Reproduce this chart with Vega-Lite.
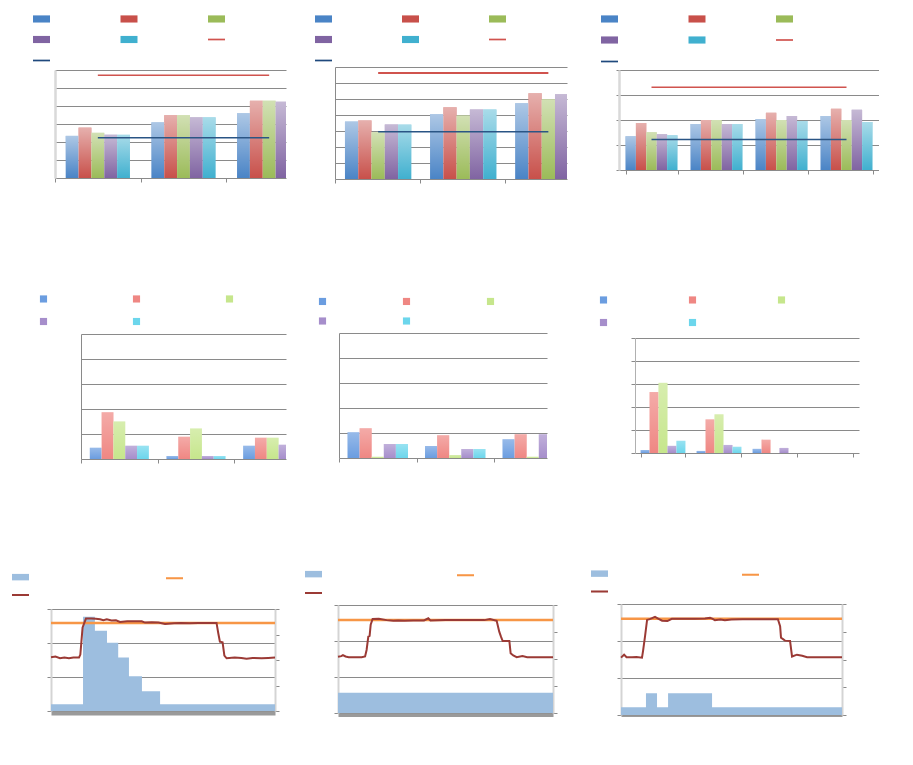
{
"$schema": "https://vega.github.io/schema/vega-lite/v6.json",
"background": "white",
"padding": {"left": 0, "top": 10, "right": 0, "bottom": 0},
"config": {"view": {"stroke": null}, "axis": {"labels": false}},
"datasets": {
"p1b": [{"g":"g1","s":"S1","v":2.34},{"g":"g1","s":"S2","v":2.8},{"g":"g1","s":"S3","v":2.51},{"g":"g1","s":"S4","v":2.4},{"g":"g1","s":"S5","v":2.4},
{"g":"g2","s":"S1","v":3.09},{"g":"g2","s":"S2","v":3.49},{"g":"g2","s":"S3","v":3.49},{"g":"g2","s":"S4","v":3.37},{"g":"g2","s":"S5","v":3.37},
{"g":"g3","s":"S1","v":3.6},{"g":"g3","s":"S2","v":4.29},{"g":"g3","s":"S3","v":4.29},{"g":"g3","s":"S4","v":4.23},{"g":"g3","s":"S5","v":4.2}],
"p1l": [{"g":"g1","s":"L1","v":5.71},{"g":"g2","s":"L1","v":5.71},{"g":"g3","s":"L1","v":5.71},{"g":"g1","s":"L2","v":2.23},{"g":"g2","s":"L2","v":2.23},{"g":"g3","s":"L2","v":2.23}],
"p2b": [{"g":"g1","s":"S1","v":3.59},{"g":"g1","s":"S2","v":3.66},{"g":"g1","s":"S3","v":2.92},{"g":"g1","s":"S4","v":3.4},{"g":"g1","s":"S5","v":3.4},
{"g":"g2","s":"S1","v":4.04},{"g":"g2","s":"S2","v":4.48},{"g":"g2","s":"S3","v":3.97},{"g":"g2","s":"S4","v":4.35},{"g":"g2","s":"S5","v":4.35},
{"g":"g3","s":"S1","v":4.73},{"g":"g3","s":"S2","v":5.36},{"g":"g3","s":"S3","v":4.98},{"g":"g3","s":"S4","v":5.3},{"g":"g3","s":"S5","v":5.2}],
"p2l": [{"g":"g1","s":"L1","v":6.62},{"g":"g2","s":"L1","v":6.62},{"g":"g3","s":"L1","v":6.62},{"g":"g1","s":"L2","v":2.96},{"g":"g2","s":"L2","v":2.96},{"g":"g3","s":"L2","v":2.96}],
"p3b": [{"g":"g1","s":"S1","v":1.35},{"g":"g1","s":"S2","v":1.88},{"g":"g1","s":"S3","v":1.51},{"g":"g1","s":"S4","v":1.43},{"g":"g1","s":"S5","v":1.39},
{"g":"g2","s":"S1","v":1.84},{"g":"g2","s":"S2","v":2.0},{"g":"g2","s":"S3","v":2.0},{"g":"g2","s":"S4","v":1.84},{"g":"g2","s":"S5","v":1.84},
{"g":"g3","s":"S1","v":2.04},{"g":"g3","s":"S2","v":2.29},{"g":"g3","s":"S3","v":2.0},{"g":"g3","s":"S4","v":2.16},{"g":"g3","s":"S5","v":1.96},
{"g":"g4","s":"S1","v":2.16},{"g":"g4","s":"S2","v":2.45},{"g":"g4","s":"S3","v":2.0},{"g":"g4","s":"S4","v":2.41},{"g":"g4","s":"S5","v":1.92}],
"p3l": [{"g":"g1","s":"L1","v":3.31},{"g":"g2","s":"L1","v":3.31},{"g":"g3","s":"L1","v":3.31},{"g":"g4","s":"L1","v":3.31},{"g":"g1","s":"L2","v":1.22},{"g":"g2","s":"L2","v":1.22},{"g":"g3","s":"L2","v":1.22},{"g":"g4","s":"L2","v":1.22}],
"p4b": [{"g":"g1","s":"S1","v":0.45},{"g":"g1","s":"S2","v":1.87},{"g":"g1","s":"S3","v":1.5},{"g":"g1","s":"S4","v":0.53},{"g":"g1","s":"S5","v":0.53},
{"g":"g2","s":"S1","v":0.12},{"g":"g2","s":"S2","v":0.89},{"g":"g2","s":"S3","v":1.22},{"g":"g2","s":"S4","v":0.12},{"g":"g2","s":"S5","v":0.12},
{"g":"g3","s":"S1","v":0.53},{"g":"g3","s":"S2","v":0.85},{"g":"g3","s":"S3","v":0.85},{"g":"g3","s":"S4","v":0.57},{"g":"g3","s":"S5","v":0.5}],
"p5b": [{"g":"g1","s":"S1","v":1.03},{"g":"g1","s":"S2","v":1.19},{"g":"g1","s":"S3","v":0.05},{"g":"g1","s":"S4","v":0.56},{"g":"g1","s":"S5","v":0.56},
{"g":"g2","s":"S1","v":0.48},{"g":"g2","s":"S2","v":0.91},{"g":"g2","s":"S3","v":0.12},{"g":"g2","s":"S4","v":0.36},{"g":"g2","s":"S5","v":0.36},
{"g":"g3","s":"S1","v":0.75},{"g":"g3","s":"S2","v":0.95},{"g":"g3","s":"S3","v":0.05},{"g":"g3","s":"S4","v":0.95},{"g":"g3","s":"S5","v":0.5}],
"p6b": [{"g":"g1","s":"S1","v":0.13},{"g":"g1","s":"S2","v":2.65},{"g":"g1","s":"S3","v":3.05},{"g":"g1","s":"S4","v":0.31},{"g":"g1","s":"S5","v":0.53},
{"g":"g2","s":"S1","v":0.09},{"g":"g2","s":"S2","v":1.46},{"g":"g2","s":"S3","v":1.68},{"g":"g2","s":"S4","v":0.35},{"g":"g2","s":"S5","v":0.27},
{"g":"g3","s":"S1","v":0.18},{"g":"g3","s":"S2","v":0.58},{"g":"g3","s":"S3","v":0},{"g":"g3","s":"S4","v":0.22},{"g":"g3","s":"S5","v":0},
{"g":"g4","s":"S1","v":0},{"g":"g4","s":"S2","v":0},{"g":"g4","s":"S3","v":0},{"g":"g4","s":"S4","v":0},{"g":"g4","s":"S5","v":0}],
"p7a": [{"s":"A","t":0,"v":0.2},{"s":"A","t":14.3,"v":2.77},{"s":"A","t":19.6,"v":2.36},{"s":"A","t":25,"v":2.01},{"s":"A","t":30,"v":1.57},{"s":"A","t":34.8,"v":1.02},{"s":"A","t":40.6,"v":0.58},{"s":"A","t":48.7,"v":0.2},{"s":"A","t":100,"v":0.2}],
"p7o": [{"t":0,"v":2.59},{"t":100,"v":2.59}],
"p7r": [{"t":0,"v":1.58},{"t":2,"v":1.6},{"t":4,"v":1.55},{"t":6,"v":1.57},{"t":8,"v":1.55},{"t":10,"v":1.57},{"t":12.5,"v":1.57},{"t":13.1,"v":1.66},{"t":13.5,"v":1.98},{"t":14.1,"v":2.46},{"t":15.6,"v":2.72},{"t":18,"v":2.72},{"t":20,"v":2.71},{"t":21.9,"v":2.7},{"t":23.4,"v":2.67},{"t":24.9,"v":2.7},{"t":27,"v":2.66},{"t":29,"v":2.67},{"t":30.8,"v":2.62},{"t":34,"v":2.64},{"t":38,"v":2.64},{"t":40.5,"v":2.64},{"t":42,"v":2.6},{"t":45,"v":2.61},{"t":48,"v":2.6},{"t":50.9,"v":2.56},{"t":55,"v":2.58},{"t":58,"v":2.59},{"t":62,"v":2.58},{"t":65.8,"v":2.59},{"t":70,"v":2.59},{"t":73.9,"v":2.59},{"t":74.7,"v":2.28},{"t":75.4,"v":2.04},{"t":76.6,"v":2.02},{"t":77.4,"v":1.63},{"t":78.4,"v":1.55},{"t":82,"v":1.57},{"t":85,"v":1.56},{"t":87.3,"v":1.54},{"t":90,"v":1.56},{"t":94,"v":1.55},{"t":97,"v":1.56},{"t":100,"v":1.57}],
"p8a": [{"s":"A","t":0,"v":0.56},{"s":"A","t":100,"v":0.56}],
"p8o": [{"t":0,"v":2.58},{"t":100,"v":2.58}],
"p8r": [{"t":0,"v":1.56},{"t":1.5,"v":1.58},{"t":2.3,"v":1.61},{"t":3.5,"v":1.57},{"t":5,"v":1.55},{"t":8,"v":1.55},{"t":11,"v":1.55},{"t":12.6,"v":1.57},{"t":13.3,"v":1.75},{"t":14.1,"v":2.12},{"t":14.7,"v":2.14},{"t":15.2,"v":2.45},{"t":16.1,"v":2.61},{"t":19,"v":2.62},{"t":22.6,"v":2.58},{"t":25.7,"v":2.56},{"t":28,"v":2.57},{"t":31,"v":2.56},{"t":35,"v":2.57},{"t":40,"v":2.57},{"t":42,"v":2.63},{"t":43,"v":2.57},{"t":50,"v":2.58},{"t":60,"v":2.58},{"t":68,"v":2.58},{"t":70.7,"v":2.61},{"t":73.8,"v":2.56},{"t":75,"v":2.26},{"t":75.8,"v":2.12},{"t":76.6,"v":2.0},{"t":79.7,"v":2.0},{"t":80.3,"v":1.66},{"t":81.5,"v":1.6},{"t":83.1,"v":1.55},{"t":85.8,"v":1.58},{"t":88,"v":1.55},{"t":92,"v":1.55},{"t":96,"v":1.55},{"t":100,"v":1.55}],
"p9a": [{"s":"A","t":0,"v":0.21},{"s":"A","t":11.3,"v":0.59},{"s":"A","t":16.3,"v":0.21},{"s":"A","t":21.3,"v":0.59},{"s":"A","t":41.2,"v":0.21},{"s":"A","t":100,"v":0.21}],
"p9o": [{"t":0,"v":2.6},{"t":100,"v":2.6}],
"p9r": [{"t":0,"v":1.55},{"t":1.4,"v":1.63},{"t":2.5,"v":1.56},{"t":5,"v":1.56},{"t":7,"v":1.57},{"t":9.5,"v":1.55},{"t":10,"v":1.74},{"t":10.9,"v":2.14},{"t":11.8,"v":2.57},{"t":13,"v":2.59},{"t":15.4,"v":2.65},{"t":17,"v":2.6},{"t":18.6,"v":2.55},{"t":21,"v":2.54},{"t":23,"v":2.6},{"t":28,"v":2.6},{"t":33.5,"v":2.6},{"t":38,"v":2.61},{"t":40.3,"v":2.63},{"t":41.5,"v":2.6},{"t":42.5,"v":2.56},{"t":45,"v":2.58},{"t":47,"v":2.56},{"t":50,"v":2.58},{"t":55,"v":2.59},{"t":60,"v":2.59},{"t":65,"v":2.59},{"t":71,"v":2.59},{"t":72,"v":2.4},{"t":72.4,"v":2.09},{"t":74.2,"v":2.01},{"t":76.5,"v":2.0},{"t":77.4,"v":1.58},{"t":79.6,"v":1.63},{"t":82,"v":1.6},{"t":84.2,"v":1.56},{"t":90,"v":1.56},{"t":100,"v":1.56}]
},
"spacing": 0,
"resolve": {"scale": {"color": "independent", "xOffset": "independent"}, "legend": {"color": "independent"}},
"vconcat": [
{
"spacing": 7,
"resolve": {"scale": {"color": "independent", "xOffset": "independent"}, "legend": {"color": "independent"}},
"hconcat": [
{
"width": 235, "height": 111,
"layer": [
{"data": {"name": "p1b"}, "mark": {"type": "bar", "clip": true},
"encoding": {
"x": {"field": "g", "type": "nominal", "title": null, "scale": {"range": [4, 261], "paddingInner": 0.25, "paddingOuter": 0.125}, "axis": {"labels": false, "grid": false, "domain": false, "tickSize": 4, "tickColor": "#8a8a8a", "bandPosition": 0, "tickOffset": -10.7, "minExtent": 111}},
"xOffset": {"field": "s", "type": "nominal", "scale": {"domain": ["S1","S2","S3","S4","S5"]}},
"y": {"field": "v", "type": "quantitative", "stack": null, "title": null, "scale": {"domain": [0, 6], "nice": false, "range": [111, 3]}, "axis": {"labels": false, "values": [0,1,2,3,4,5,6], "tickCount": 20, "grid": false, "tickColor": "#8a8a8a", "tickSize": -231, "domainColor": "#d9d9d9", "domainWidth": 2.5, "offset": -4, "minExtent": 55, "zindex": 0}},
"color": {"field": "s", "type": "nominal", "scale": {"domain": ["S1","S2","S3","S4","S5","L1","L2"], "range": ["#4a84c6","#c8504a","#9bbb59","#8064a2","#40b0cf","#d0534e","#1f497d"]},
"legend": {"orient": "none", "direction": "horizontal", "legendX": -18, "legendY": -57, "columns": 3, "columnPadding": 70.5, "rowPadding": 8, "title": null, "labelExpr": "''", "labelFontSize": 1, "labelOffset": 0, "symbolSize": 289, "symbolStrokeWidth": 0, "symbolOpacity": 1, "symbolType": "M-1,-0.42H1V0.42H-1Z", "padding": 0,
"encode": {"symbols": {"update": {"shape": {"signal": "datum.value == 'L1' || datum.value == 'L2' ? 'M-1,-0.1H1V0.1H-1Z' : 'M-1,-0.42H1V0.42H-1Z'"}}}}}}
}},
{"data": {"name": "p1b"}, "mark": {"type": "bar", "clip": true, "fill": {"gradient": "linear", "x1": 0, "y1": 0, "x2": 0, "y2": 1, "stops": [{"offset": 0, "color": "rgba(255,255,255,0.55)"}, {"offset": 1, "color": "rgba(255,255,255,0)"}]}},
"encoding": {"x": {"field": "g", "type": "nominal", "title": null}, "xOffset": {"field": "s", "type": "nominal"}, "y": {"field": "v", "type": "quantitative", "stack": null, "title": null}}},
{"data": {"name": "p1l"}, "transform": [{"filter": "datum.s == 'L1'"}], "mark": {"type": "line", "color": "#d0534e", "strokeWidth": 1.5}, "encoding": {"x": {"field": "g", "type": "nominal", "title": null}, "y": {"field": "v", "type": "quantitative", "title": null}}},
{"data": {"name": "p1l"}, "transform": [{"filter": "datum.s == 'L2'"}], "mark": {"type": "line", "color": "#2a5585", "strokeWidth": 1.5}, "encoding": {"x": {"field": "g", "type": "nominal", "title": null}, "y": {"field": "v", "type": "quantitative", "title": null}}}
]
},
{
"width": 232, "height": 112,
"layer": [
{"data": {"name": "p2b"}, "mark": {"type": "bar", "clip": true},
"encoding": {
"x": {"field": "g", "type": "nominal", "title": null, "scale": {"range": [0, 256.5], "paddingInner": 0.22, "paddingOuter": 0.117}, "axis": {"labels": false, "grid": false, "domain": false, "tickSize": 4, "tickColor": "#8a8a8a", "bandPosition": 0, "tickOffset": -10, "minExtent": 111}},
"xOffset": {"field": "s", "type": "nominal", "scale": {"domain": ["S1","S2","S3","S4","S5"]}},
"y": {"field": "v", "type": "quantitative", "stack": null, "title": null, "scale": {"domain": [0, 7], "nice": false, "range": [112, 0]}, "axis": {"labels": false, "values": [0,1,2,3,4,5,6,7], "tickCount": 20, "grid": false, "tickColor": "#8a8a8a", "tickSize": -232, "domainColor": "#8a8a8a", "domainWidth": 1, "minExtent": 20, "zindex": 0}},
"color": {"field": "s", "type": "nominal", "scale": {"domain": ["S1","S2","S3","S4","S5","L1","L2"], "range": ["#4a84c6","#c8504a","#9bbb59","#8064a2","#40b0cf","#d0534e","#1f497d"]},
"legend": {"orient": "none", "direction": "horizontal", "legendX": -20, "legendY": -57, "columns": 3, "columnPadding": 70, "rowPadding": 8, "title": null, "labelExpr": "''", "labelFontSize": 1, "labelOffset": 0, "symbolSize": 289, "symbolStrokeWidth": 0, "symbolOpacity": 1, "symbolType": "M-1,-0.42H1V0.42H-1Z", "padding": 0,
"encode": {"symbols": {"update": {"shape": {"signal": "datum.value == 'L1' || datum.value == 'L2' ? 'M-1,-0.1H1V0.1H-1Z' : 'M-1,-0.42H1V0.42H-1Z'"}}}}}}
}},
{"data": {"name": "p2b"}, "mark": {"type": "bar", "clip": true, "fill": {"gradient": "linear", "x1": 0, "y1": 0, "x2": 0, "y2": 1, "stops": [{"offset": 0, "color": "rgba(255,255,255,0.55)"}, {"offset": 1, "color": "rgba(255,255,255,0)"}]}},
"encoding": {"x": {"field": "g", "type": "nominal", "title": null}, "xOffset": {"field": "s", "type": "nominal"}, "y": {"field": "v", "type": "quantitative", "stack": null, "title": null}}},
{"data": {"name": "p2l"}, "transform": [{"filter": "datum.s == 'L1'"}], "mark": {"type": "line", "color": "#d0534e", "strokeWidth": 2}, "encoding": {"x": {"field": "g", "type": "nominal", "title": null}, "y": {"field": "v", "type": "quantitative", "title": null}}},
{"data": {"name": "p2l"}, "transform": [{"filter": "datum.s == 'L2'"}], "mark": {"type": "line", "color": "#2a5585", "strokeWidth": 1.5}, "encoding": {"x": {"field": "g", "type": "nominal", "title": null}, "y": {"field": "v", "type": "quantitative", "title": null}}}
]
},
{
"width": 260, "height": 103,
"layer": [
{"data": {"name": "p3b"}, "mark": {"type": "bar", "clip": true},
"encoding": {
"x": {"field": "g", "type": "nominal", "title": null, "scale": {"paddingInner": 0.2, "paddingOuter": 0.1}, "axis": {"labels": false, "grid": false, "domain": false, "tickSize": 4, "tickColor": "#8a8a8a", "tickBand": "extent", "minExtent": 111}},
"xOffset": {"field": "s", "type": "nominal", "scale": {"domain": ["S1","S2","S3","S4","S5"]}},
"y": {"field": "v", "type": "quantitative", "stack": null, "title": null, "scale": {"domain": [0, 4], "nice": false, "range": [103, 3]}, "axis": {"labels": false, "values": [0,1,2,3,4], "tickCount": 20, "grid": true, "gridColor": "#8a8a8a", "tickColor": "#8a8a8a", "tickSize": 3, "domainColor": "#d9d9d9", "domainWidth": 2.5, "minExtent": 19.5, "zindex": 0}},
"color": {"field": "s", "type": "nominal", "scale": {"domain": ["S1","S2","S3","S4","S5","L1","L2"], "range": ["#4a84c6","#c8504a","#9bbb59","#8064a2","#40b0cf","#d0534e","#1f497d"]},
"legend": {"orient": "none", "direction": "horizontal", "legendX": -18, "legendY": -57, "columns": 3, "columnPadding": 70.5, "rowPadding": 8.5, "title": null, "labelExpr": "''", "labelFontSize": 1, "labelOffset": 0, "symbolSize": 289, "symbolStrokeWidth": 0, "symbolOpacity": 1, "symbolType": "M-1,-0.42H1V0.42H-1Z", "padding": 0,
"encode": {"symbols": {"update": {"shape": {"signal": "datum.value == 'L1' || datum.value == 'L2' ? 'M-1,-0.1H1V0.1H-1Z' : 'M-1,-0.42H1V0.42H-1Z'"}}}}}}
}},
{"data": {"name": "p3b"}, "mark": {"type": "bar", "clip": true, "fill": {"gradient": "linear", "x1": 0, "y1": 0, "x2": 0, "y2": 1, "stops": [{"offset": 0, "color": "rgba(255,255,255,0.55)"}, {"offset": 1, "color": "rgba(255,255,255,0)"}]}},
"encoding": {"x": {"field": "g", "type": "nominal", "title": null}, "xOffset": {"field": "s", "type": "nominal"}, "y": {"field": "v", "type": "quantitative", "stack": null, "title": null}}},
{"data": {"name": "p3l"}, "transform": [{"filter": "datum.s == 'L1'"}], "mark": {"type": "line", "color": "#d0534e", "strokeWidth": 1.5}, "encoding": {"x": {"field": "g", "type": "nominal", "title": null}, "y": {"field": "v", "type": "quantitative", "title": null}}},
{"data": {"name": "p3l"}, "transform": [{"filter": "datum.s == 'L2'"}], "mark": {"type": "line", "color": "#2a5585", "strokeWidth": 1.5}, "encoding": {"x": {"field": "g", "type": "nominal", "title": null}, "y": {"field": "v", "type": "quantitative", "title": null}}}
]
}
]
},
{
"spacing": 22,
"resolve": {"scale": {"color": "independent", "xOffset": "independent"}, "legend": {"color": "independent"}},
"hconcat": [
{
"width": 235, "height": 126,
"layer": [
{"data": {"name": "p4b"}, "mark": {"type": "bar", "clip": true},
"encoding": {
"x": {"field": "g", "type": "nominal", "title": null, "scale": {"range": [30, 260], "paddingInner": 0.23, "paddingOuter": 0.115}, "axis": {"labels": false, "grid": false, "domain": false, "tickSize": 4, "tickColor": "#8a8a8a", "bandPosition": 0, "tickOffset": -8.8, "minExtent": 106}},
"xOffset": {"field": "s", "type": "nominal", "scale": {"domain": ["S1","S2","S3","S4","S5"]}},
"y": {"field": "v", "type": "quantitative", "stack": null, "title": null, "scale": {"domain": [0, 5], "nice": false, "range": [126, 1]}, "axis": {"labels": false, "values": [0,1,2,3,4,5], "tickCount": 20, "grid": false, "tickColor": "#8a8a8a", "tickSize": -205, "domainColor": "#8a8a8a", "domainWidth": 1, "offset": -30, "minExtent": 81, "zindex": 0}},
"color": {"field": "s", "type": "nominal", "scale": {"domain": ["S1","S2","S3","S4","S5"], "range": ["#6b9de0","#ef8783","#c6e68c","#a68ecb","#6cd6ec"]},
"legend": {"orient": "none", "direction": "horizontal", "legendX": -16, "legendY": -43, "columns": 3, "columnPadding": 76, "rowPadding": 10, "title": null, "labelExpr": "''", "labelFontSize": 1, "labelOffset": 0, "symbolSize": 289, "symbolStrokeWidth": 0, "symbolOpacity": 1, "symbolType": "M-0.42,-0.42H0.42V0.42H-0.42Z", "padding": 0}}
}},
{"data": {"name": "p4b"}, "mark": {"type": "bar", "clip": true, "fill": {"gradient": "linear", "x1": 0, "y1": 0, "x2": 0, "y2": 1, "stops": [{"offset": 0, "color": "rgba(255,255,255,0.3)"}, {"offset": 1, "color": "rgba(255,255,255,0)"}]}},
"encoding": {"x": {"field": "g", "type": "nominal", "title": null}, "xOffset": {"field": "s", "type": "nominal"}, "y": {"field": "v", "type": "quantitative", "stack": null, "title": null}}}
]
},
{
"width": 208, "height": 125,
"layer": [
{"data": {"name": "p5b"}, "mark": {"type": "bar", "clip": true},
"encoding": {
"x": {"field": "g", "type": "nominal", "title": null, "scale": {"range": [0, 232.5], "paddingInner": 0.22, "paddingOuter": 0.11}, "axis": {"labels": false, "grid": false, "domain": false, "tickSize": 4, "tickColor": "#8a8a8a", "bandPosition": 0, "tickOffset": -8.5, "minExtent": 106}},
"xOffset": {"field": "s", "type": "nominal", "scale": {"domain": ["S1","S2","S3","S4","S5"]}},
"y": {"field": "v", "type": "quantitative", "stack": null, "title": null, "scale": {"domain": [0, 5], "nice": false, "range": [125, 0]}, "axis": {"labels": false, "values": [0,1,2,3,4,5], "tickCount": 20, "grid": false, "tickColor": "#8a8a8a", "tickSize": -208, "domainColor": "#8a8a8a", "domainWidth": 1, "minExtent": 30, "zindex": 0}},
"color": {"field": "s", "type": "nominal", "scale": {"domain": ["S1","S2","S3","S4","S5"], "range": ["#6b9de0","#ef8783","#c6e68c","#a68ecb","#6cd6ec"]},
"legend": {"orient": "none", "direction": "horizontal", "legendX": -25, "legendY": -40.5, "columns": 3, "columnPadding": 67, "rowPadding": 7, "title": null, "labelExpr": "''", "labelFontSize": 1, "labelOffset": 0, "symbolSize": 289, "symbolStrokeWidth": 0, "symbolOpacity": 1, "symbolType": "M-0.42,-0.42H0.42V0.42H-0.42Z", "padding": 0}}
}},
{"data": {"name": "p5b"}, "mark": {"type": "bar", "clip": true, "fill": {"gradient": "linear", "x1": 0, "y1": 0, "x2": 0, "y2": 1, "stops": [{"offset": 0, "color": "rgba(255,255,255,0.3)"}, {"offset": 1, "color": "rgba(255,255,255,0)"}]}},
"encoding": {"x": {"field": "g", "type": "nominal", "title": null}, "xOffset": {"field": "s", "type": "nominal"}, "y": {"field": "v", "type": "quantitative", "stack": null, "title": null}}}
]
},
{
"width": 224, "height": 120,
"layer": [
{"data": {"name": "p6b"}, "mark": {"type": "bar", "clip": true},
"encoding": {
"x": {"field": "g", "type": "nominal", "title": null, "scale": {"paddingInner": 0.2, "paddingOuter": 0.1}, "axis": {"labels": false, "grid": false, "domain": false, "tickSize": 4, "tickColor": "#8a8a8a", "tickBand": "extent", "minExtent": 106}},
"xOffset": {"field": "s", "type": "nominal", "scale": {"domain": ["S1","S2","S3","S4","S5"]}},
"y": {"field": "v", "type": "quantitative", "stack": null, "title": null, "scale": {"domain": [0, 5], "nice": false, "range": [120, 5]}, "axis": {"labels": false, "values": [0,1,2,3,4,5], "tickCount": 20, "grid": true, "gridColor": "#8a8a8a", "tickColor": "#8a8a8a", "tickSize": 4, "domainColor": "#b0b0b0", "domainWidth": 1, "minExtent": 40.5, "zindex": 0}},
"color": {"field": "s", "type": "nominal", "scale": {"domain": ["S1","S2","S3","S4","S5"], "range": ["#6b9de0","#ef8783","#c6e68c","#a68ecb","#6cd6ec"]},
"legend": {"orient": "none", "direction": "horizontal", "legendX": -40, "legendY": -42, "columns": 3, "columnPadding": 72, "rowPadding": 10, "title": null, "labelExpr": "''", "labelFontSize": 1, "labelOffset": 0, "symbolSize": 289, "symbolStrokeWidth": 0, "symbolOpacity": 1, "symbolType": "M-0.42,-0.42H0.42V0.42H-0.42Z", "padding": 0}}
}},
{"data": {"name": "p6b"}, "mark": {"type": "bar", "clip": true, "fill": {"gradient": "linear", "x1": 0, "y1": 0, "x2": 0, "y2": 1, "stops": [{"offset": 0, "color": "rgba(255,255,255,0.3)"}, {"offset": 1, "color": "rgba(255,255,255,0)"}]}},
"encoding": {"x": {"field": "g", "type": "nominal", "title": null}, "xOffset": {"field": "s", "type": "nominal"}, "y": {"field": "v", "type": "quantitative", "stack": null, "title": null}}}
]
}
]
},
{
"spacing": 21,
"resolve": {"scale": {"color": "independent", "xOffset": "independent"}, "legend": {"color": "independent"}},
"hconcat": [
{
"width": 224, "height": 108,
"resolve": {"scale": {"y": "independent"}},
"layer": [
{"layer": [
{"data": {"name": "p7a"}, "mark": {"type": "area", "interpolate": "step-after", "opacity": 1},
"encoding": {
"x": {"field": "t", "type": "quantitative", "title": null, "scale": {"domain": [0, 100], "nice": false, "zero": false}, "axis": {"labels": false, "ticks": false, "grid": false, "domain": true, "domainColor": "#9a9a9a", "domainWidth": 4, "offset": 2}},
"y": {"field": "v", "type": "quantitative", "title": null, "scale": {"domain": [0, 3], "nice": false, "range": [108, 6]}, "axis": {"labels": false, "values": [0,1,2,3], "tickCount": 20, "grid": true, "gridColor": "#8a8a8a", "tickColor": "#8a8a8a", "tickSize": 4, "domainColor": "#d4d4d4", "domainWidth": 2, "minExtent": 51, "zindex": 0}},
"color": {"field": "s", "type": "nominal", "scale": {"domain": ["A","O","R"], "range": ["#9dbedf","#f79646","#9b3a35"]},
"legend": {"orient": "none", "direction": "horizontal", "legendX": -39, "legendY": -34.5, "columns": 2, "columnPadding": 137, "rowPadding": 6, "title": null, "labelExpr": "''", "labelFontSize": 1, "labelOffset": 0, "symbolSize": 289, "symbolStrokeWidth": 0, "symbolOpacity": 1, "symbolType": "M-1,-0.38H1V0.38H-1Z", "padding": 0,
"encode": {"symbols": {"update": {"shape": {"signal": "datum.value == 'A' ? 'M-1,-0.38H1V0.38H-1Z' : 'M-1,-0.12H1V0.12H-1Z'"}}}}}}
}},
{"data": {"name": "p7o"}, "mark": {"type": "line", "color": "#f79646", "strokeWidth": 2.5}, "encoding": {"x": {"field": "t", "type": "quantitative", "title": null}, "y": {"field": "v", "type": "quantitative", "title": null}}},
{"data": {"name": "p7r"}, "mark": {"type": "line", "color": "#9b3a35", "strokeWidth": 2}, "encoding": {"x": {"field": "t", "type": "quantitative", "title": null}, "y": {"field": "v", "type": "quantitative", "title": null}}}
]},
{"data": {"values": [{}]}, "mark": {"type": "rule", "opacity": 0},
"encoding": {"y": {"datum": 0, "type": "quantitative", "title": null, "scale": {"domain": [0, 4], "nice": false, "range": [108, 6]}, "axis": {"orient": "right", "labels": false, "grid": false, "values": [0,1,2,3,4], "tickCount": 20, "tickColor": "#8a8a8a", "tickSize": 4, "domainColor": "#d4d4d4", "domainWidth": 2, "minExtent": 6}}}}
]
},
{
"width": 215, "height": 110,
"resolve": {"scale": {"y": "independent"}},
"layer": [
{"layer": [
{"data": {"name": "p8a"}, "mark": {"type": "area", "interpolate": "step-after", "opacity": 1},
"encoding": {
"x": {"field": "t", "type": "quantitative", "title": null, "scale": {"domain": [0, 100], "nice": false, "zero": false}, "axis": {"labels": false, "ticks": false, "grid": false, "domain": true, "domainColor": "#9a9a9a", "domainWidth": 4, "offset": 2}},
"y": {"field": "v", "type": "quantitative", "title": null, "scale": {"domain": [0, 3], "nice": false, "range": [110, 2]}, "axis": {"labels": false, "values": [0,1,2,3], "tickCount": 20, "grid": true, "gridColor": "#8a8a8a", "tickColor": "#8a8a8a", "tickSize": 4, "domainColor": "#d4d4d4", "domainWidth": 2, "minExtent": 36, "zindex": 0}},
"color": {"field": "s", "type": "nominal", "scale": {"domain": ["A","O","R"], "range": ["#9dbedf","#f79646","#9b3a35"]},
"legend": {"orient": "none", "direction": "horizontal", "legendX": -33, "legendY": -37.5, "columns": 2, "columnPadding": 135, "rowPadding": 7, "title": null, "labelExpr": "''", "labelFontSize": 1, "labelOffset": 0, "symbolSize": 289, "symbolStrokeWidth": 0, "symbolOpacity": 1, "symbolType": "M-1,-0.38H1V0.38H-1Z", "padding": 0,
"encode": {"symbols": {"update": {"shape": {"signal": "datum.value == 'A' ? 'M-1,-0.38H1V0.38H-1Z' : 'M-1,-0.12H1V0.12H-1Z'"}}}}}}
}},
{"data": {"name": "p8o"}, "mark": {"type": "line", "color": "#f79646", "strokeWidth": 2.5}, "encoding": {"x": {"field": "t", "type": "quantitative", "title": null}, "y": {"field": "v", "type": "quantitative", "title": null}}},
{"data": {"name": "p8r"}, "mark": {"type": "line", "color": "#9b3a35", "strokeWidth": 2}, "encoding": {"x": {"field": "t", "type": "quantitative", "title": null}, "y": {"field": "v", "type": "quantitative", "title": null}}}
]},
{"data": {"values": [{}]}, "mark": {"type": "rule", "opacity": 0},
"encoding": {"y": {"datum": 0, "type": "quantitative", "title": null, "scale": {"domain": [0, 4], "nice": false, "range": [110, 2]}, "axis": {"orient": "right", "labels": false, "grid": false, "values": [0,1,2,3,4], "tickCount": 20, "tickColor": "#8a8a8a", "tickSize": 4, "domainColor": "#d4d4d4", "domainWidth": 2, "minExtent": 15}}}}
]
},
{
"width": 221, "height": 112,
"resolve": {"scale": {"y": "independent"}},
"layer": [
{"layer": [
{"data": {"name": "p9a"}, "mark": {"type": "area", "interpolate": "step-after", "opacity": 1},
"encoding": {
"x": {"field": "t", "type": "quantitative", "title": null, "scale": {"domain": [0, 100], "nice": false, "zero": false}, "axis": {"labels": false, "ticks": false, "grid": false, "domain": true, "domainColor": "#9a9a9a", "domainWidth": 4, "offset": 2}},
"y": {"field": "v", "type": "quantitative", "title": null, "scale": {"domain": [0, 3], "nice": false, "range": [112, 1]}, "axis": {"labels": false, "values": [0,1,2,3], "tickCount": 20, "grid": true, "gridColor": "#8a8a8a", "tickColor": "#8a8a8a", "tickSize": 4, "domainColor": "#d4d4d4", "domainWidth": 2, "minExtent": 32, "zindex": 0}},
"color": {"field": "s", "type": "nominal", "scale": {"domain": ["A","O","R"], "range": ["#9dbedf","#f79646","#9b3a35"]},
"legend": {"orient": "none", "direction": "horizontal", "legendX": -30, "legendY": -38, "columns": 2, "columnPadding": 134, "rowPadding": 6, "title": null, "labelExpr": "''", "labelFontSize": 1, "labelOffset": 0, "symbolSize": 289, "symbolStrokeWidth": 0, "symbolOpacity": 1, "symbolType": "M-1,-0.38H1V0.38H-1Z", "padding": 0,
"encode": {"symbols": {"update": {"shape": {"signal": "datum.value == 'A' ? 'M-1,-0.38H1V0.38H-1Z' : 'M-1,-0.12H1V0.12H-1Z'"}}}}}}
}},
{"data": {"name": "p9o"}, "mark": {"type": "line", "color": "#f79646", "strokeWidth": 2.5}, "encoding": {"x": {"field": "t", "type": "quantitative", "title": null}, "y": {"field": "v", "type": "quantitative", "title": null}}},
{"data": {"name": "p9r"}, "mark": {"type": "line", "color": "#9b3a35", "strokeWidth": 2}, "encoding": {"x": {"field": "t", "type": "quantitative", "title": null}, "y": {"field": "v", "type": "quantitative", "title": null}}}
]},
{"data": {"values": [{}]}, "mark": {"type": "rule", "opacity": 0},
"encoding": {"y": {"datum": 0, "type": "quantitative", "title": null, "scale": {"domain": [0, 4], "nice": false, "range": [112, 1]}, "axis": {"orient": "right", "labels": false, "grid": false, "values": [0,1,2,3,4], "tickCount": 20, "tickColor": "#8a8a8a", "tickSize": 4, "domainColor": "#d4d4d4", "domainWidth": 2, "minExtent": 6}}}}
]
}
]
}
]
}
